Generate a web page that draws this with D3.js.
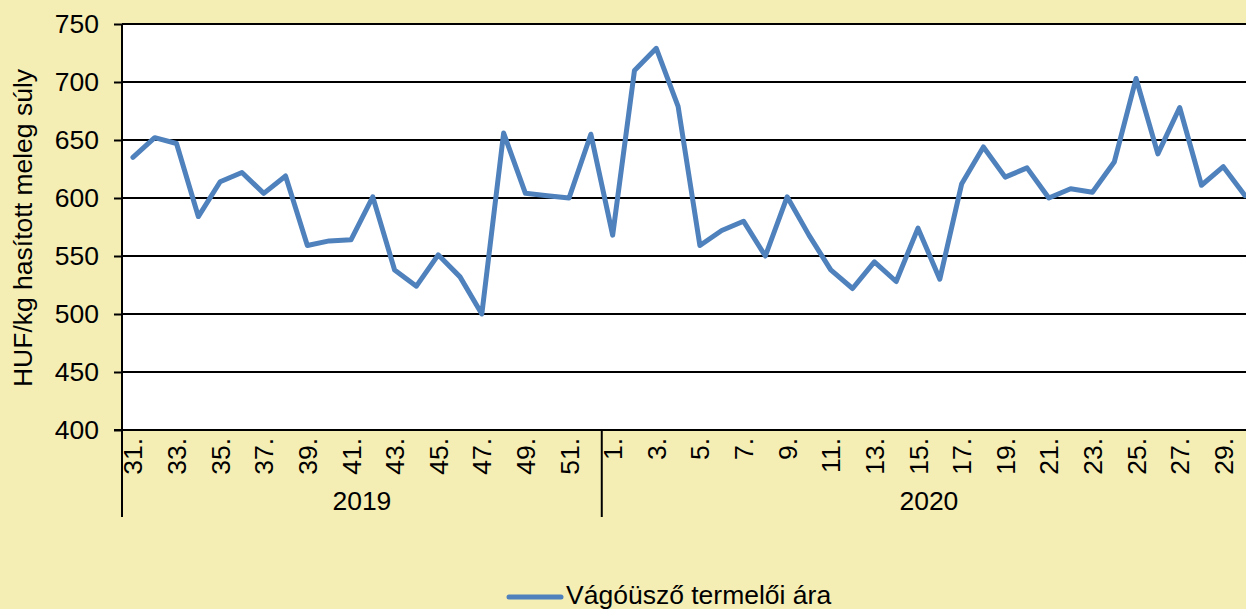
<!DOCTYPE html>
<html>
<head>
<meta charset="utf-8">
<script src="https://cdn.jsdelivr.net/npm/d3@7"></script>
<style>
  body { margin: 0; background: #F5EEB4; overflow: hidden; }
  text { font-family: "Liberation Sans", Arial, sans-serif; fill: #000; }
</style>
</head>
<body>
<svg></svg>
<script>
// weekly price, HUF/kg
const years = ['2019', '2020'];
const weeks2019 = d3.range(31, 53);
const weeks2020 = d3.range(1, 31);
const values2019 = [635, 652, 647, 584, 614, 622, 604, 619, 559, 563, 564, 601, 538, 524, 551, 532, 500, 656, 604, 602, 600, 655];
const values2020 = [568, 710, 729, 679, 559, 572, 580, 550, 601, 568, 538, 522, 545, 528, 574, 530, 612, 644, 618, 626, 600, 608, 605, 631, 703, 638, 678, 611, 627, 602];
const yTicks = [400, 450, 500, 550, 600, 650, 700, 750];
const seriesName = 'Vágóüsző termelői ára';
const yTitle = 'HUF/kg hasított meleg súly';

const data = weeks2019.map((w, i) => ({ year: '2019', week: w, value: values2019[i] }))
  .concat(weeks2020.map((w, i) => ({ year: '2020', week: w, value: values2020[i] })));
data.forEach(d => d.key = d.year + '-' + d.week);

const width = 1246;
const height = 609;
const plotLeft = 122, plotRight = 1256, plotTop = 24, plotBottom = 430;
const fs = '26.5px';

const svg = d3.select('svg')
  .attr('width', width)
  .attr('height', height);

svg.append('rect')
  .attr('width', width)
  .attr('height', height)
  .attr('fill', '#F5EEB4');

const xScale = d3.scaleBand()
  .domain(data.map(d => d.key))
  .range([plotLeft, plotRight]);

const yScale = d3.scaleLinear()
  .domain([400, 750])
  .range([plotBottom, plotTop]);

// plot area
svg.append('rect')
  .attr('x', plotLeft)
  .attr('y', plotTop)
  .attr('width', plotRight - plotLeft)
  .attr('height', plotBottom - plotTop)
  .attr('fill', '#fff');

// horizontal grid lines + y axis
const yAxis = svg.append('g')
  .attr('transform', `translate(${plotLeft},0)`)
  .call(d3.axisLeft(yScale).tickValues(yTicks).tickSize(8).tickPadding(15).tickFormat(d3.format('d')));
yAxis.select('.domain').remove();
yAxis.selectAll('.tick line').attr('stroke', '#000').attr('stroke-width', 2);
yAxis.selectAll('.tick text').style('font-size', fs).attr('font-family', null);
yAxis.attr('font-family', null).attr('font-size', null);

svg.append('g')
  .selectAll('line')
  .data(yTicks.slice(1))
  .join('line')
  .attr('x1', plotLeft)
  .attr('x2', plotRight)
  .attr('y1', d => yScale(d))
  .attr('y2', d => yScale(d))
  .attr('stroke', '#000')
  .attr('stroke-width', 2);

// category axis
const xAxis = svg.append('g')
  .attr('transform', `translate(0,${plotBottom})`)
  .call(d3.axisBottom(xScale)
    .tickSize(0)
    .tickValues(data.filter((d, i) => i % 2 === 0).map(d => d.key))
    .tickFormat(k => k.split('-')[1] + '.'));
xAxis.attr('font-family', null).attr('font-size', null);
xAxis.select('.domain').remove();
xAxis.selectAll('.tick text')
  .style('font-size', fs)
  .attr('transform', 'rotate(-90)')
  .attr('text-anchor', 'end')
  .attr('x', -8)
  .attr('y', 0)
  .attr('dy', '0.36em');

svg.append('line')
  .attr('x1', plotLeft - 8)
  .attr('x2', plotRight)
  .attr('y1', plotBottom)
  .attr('y2', plotBottom)
  .attr('stroke', '#000')
  .attr('stroke-width', 2);

// y axis line and year separators
const yearStart = years.map(y => xScale(data.find(d => d.year === y).key));
const bounds = yearStart.concat([plotRight]);
svg.append('line')
  .attr('x1', plotLeft).attr('x2', plotLeft)
  .attr('y1', plotTop).attr('y2', plotBottom)
  .attr('stroke', '#000').attr('stroke-width', 2);
svg.append('g')
  .selectAll('line')
  .data(bounds)
  .join('line')
  .attr('x1', d => d).attr('x2', d => d)
  .attr('y1', plotBottom).attr('y2', 517)
  .attr('stroke', '#000').attr('stroke-width', 2);

svg.append('g')
  .selectAll('text')
  .data(years)
  .join('text')
  .attr('x', (y, i) => (bounds[i] + bounds[i + 1]) / 2)
  .attr('y', 510)
  .attr('text-anchor', 'middle')
  .style('font-size', fs)
  .text(y => y);

// line
const line = d3.line()
  .x(d => xScale(d.key) + xScale.bandwidth() / 2)
  .y(d => yScale(d.value));

svg.append('path')
  .datum(data)
  .attr('d', line)
  .attr('fill', 'none')
  .attr('stroke', '#4F81BD')
  .attr('stroke-width', 5)
  .attr('stroke-linejoin', 'round')
  .attr('stroke-linecap', 'round');

// y title
svg.append('text')
  .attr('transform', 'rotate(-90)')
  .attr('x', -228)
  .attr('y', 32)
  .attr('text-anchor', 'middle')
  .style('font-size', fs)
  .text(yTitle);

// legend
svg.append('line')
  .attr('x1', 509).attr('x2', 561)
  .attr('y1', 597).attr('y2', 597)
  .attr('stroke', '#4F81BD')
  .attr('stroke-width', 5)
  .attr('stroke-linecap', 'round');
svg.append('text')
  .attr('x', 566)
  .attr('y', 604)
  .style('font-size', fs)
  .text(seriesName);
</script>
</body>
</html>
